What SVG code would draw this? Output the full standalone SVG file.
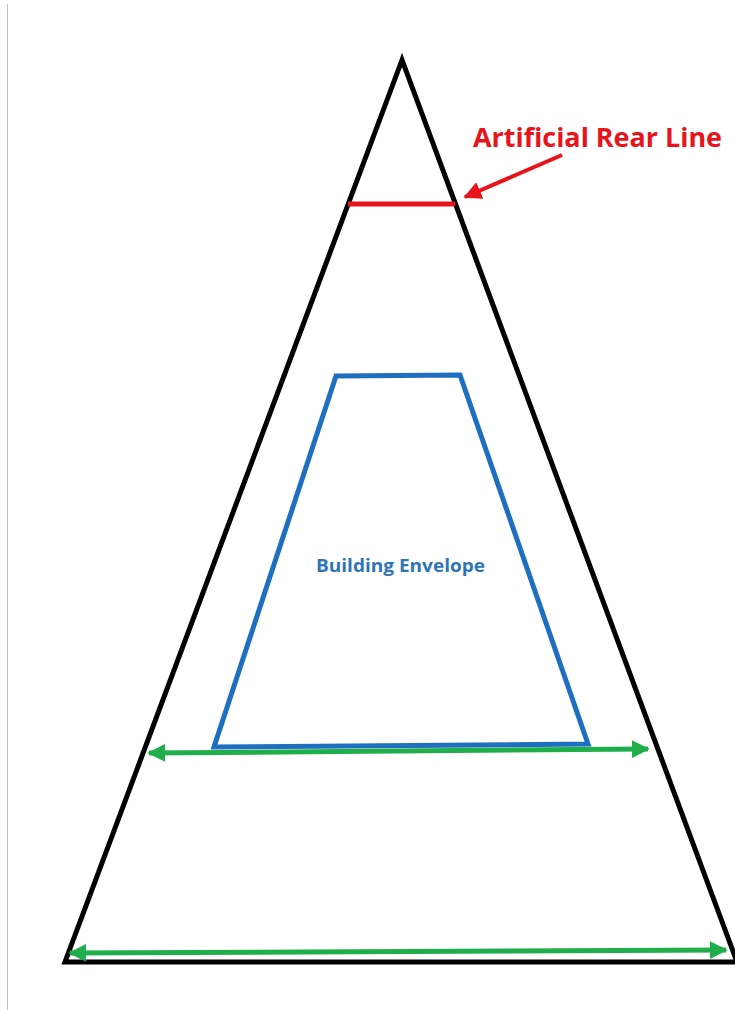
<svg xmlns="http://www.w3.org/2000/svg" width="735" height="1010" viewBox="0 0 735 1010">
<style>
.tri{fill:none;stroke:#000;stroke-width:5;stroke-linejoin:miter}
.env{fill:none;stroke:#1f6fc0;stroke-width:5}
.green{stroke:#1fae4b;stroke-width:5;fill:none}
.red{stroke:#e8141b;fill:none}
.lbl{font-family:"Open Sans","Liberation Sans",sans-serif;font-weight:bold}
</style>
<defs>
<marker id="gArrow" viewBox="0 0 10 10" refX="9" refY="5" markerWidth="3.6" markerHeight="3.6" orient="auto-start-reverse" markerUnits="strokeWidth">
<path d="M0,0 L10,5 L0,10 z" fill="#1fae4b"/>
</marker>
<marker id="rArrow" viewBox="0 0 10 10" refX="9" refY="5" markerWidth="4.5" markerHeight="4.5" orient="auto" markerUnits="strokeWidth">
<path d="M0,0 L10,5 L0,10 z" fill="#e8141b"/>
</marker>
</defs>
<rect width="735" height="1010" fill="#fff"/>
<line x1="7.5" y1="4" x2="7.5" y2="1010" stroke="#bdbdbd" stroke-width="1"/>
<g id="lot">
<path class="tri" d="M402,60 L65,962 L737,962 Z"/>
</g>
<g id="rear-line">
<line class="red" x1="348" y1="204" x2="455" y2="204" stroke-width="5"/>
</g>
<g id="envelope">
<path class="env" d="M336,376 L460,375 L588,744 L214,747 Z"/>
<text class="lbl" x="316" y="572" font-size="17.5" fill="#2e75b6" textLength="169" lengthAdjust="spacingAndGlyphs">Building Envelope</text>
</g>
<g id="rear-label">
<text class="lbl" x="473" y="147" font-size="27" fill="#e8141b" textLength="249" lengthAdjust="spacingAndGlyphs">Artificial Rear Line</text>
</g>
<g id="connectors">
<line class="red" x1="562" y1="155" x2="465" y2="197" stroke-width="4" marker-end="url(#rArrow)"/>
<line class="green" x1="149" y1="753" x2="648" y2="749" marker-start="url(#gArrow)" marker-end="url(#gArrow)"/>
<line class="green" x1="70" y1="953" x2="726" y2="950" marker-start="url(#gArrow)" marker-end="url(#gArrow)"/>
</g>
</svg>
